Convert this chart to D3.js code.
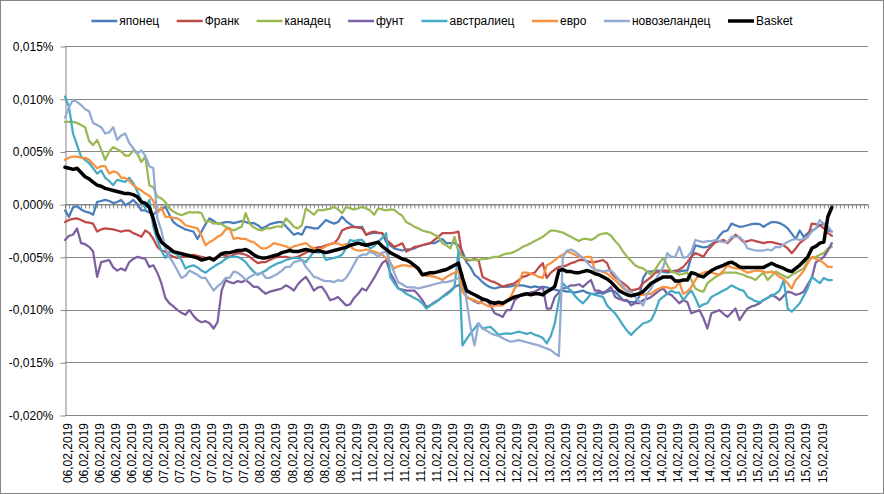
<!DOCTYPE html>
<html>
<head>
<meta charset="utf-8">
<script src="https://cdn.jsdelivr.net/npm/d3@7"></script>
<style>
  body { margin: 0; background: #fff; }
  svg { display: block; font-family: "Liberation Sans", Arial, sans-serif; }
</style>
</head>
<body>
<div id="chart"></div>
<script>
// Category axis: 24 hourly points per trading day, plus a few empty slots at the end
const days = ["06,02,2019", "07,02,2019", "08,02,2019", "11,02,2019", "12,02,2019", "13,02,2019", "14,02,2019", "15,02,2019"];
const pointsPerDay = 24;
const emptySlots = 9;
const labelEvery = 4;

// Y ticks, in thousandths of a percent (5 = 0,005%)
const yTicks = [15, 10, 5, 0, -5, -10, -15, -20];

const seriesNames = ["японец", "Франк", "канадец", "фунт", "австралиец", "евро", "новозеландец", "Basket"];
const seriesColors = ["#4A7EBB", "#BE4B48", "#98B954", "#7D60A0", "#46AAC5", "#F69240", "#93ABD3", "#000000"];

// Series values, thousandths of a percent (-5.2 = -0,0052%), one row per day
const japonec = [
  -0.6, -1.2, -0.3, -0.2, -0.5, -0.7, -0.8, -1.0, 0.2, 0.3, 0.4, 0.3, 0.1, 0.2, 0.4, -0.1, 0.1, 0.4, 0.0, -0.6, -0.6, -0.8, -1.0, -0.6,
  -0.5, -0.25, -1.0, -1.7, -2.0, -2.2, -2.4, -2.5, -2.6, -3.3, -2.6, -1.9, -1.35, -1.6, -1.85, -1.8, -1.7, -1.7, -1.8, -1.7, -1.6, -1.7, -1.8, -1.8,
  -2.0, -2.3, -2.15, -1.9, -1.8, -1.7, -1.7, -2.1, -2.5, -2.9, -2.75, -2.9, -2.15, -2.2, -2.3, -2.3, -1.9, -1.5, -1.7, -1.85, -1.7, -1.2, -1.6, -1.9,
  -2.15, -2.2, -2.15, -2.9, -2.8, -2.7, -2.75, -2.75, -3.6, -3.9, -4.2, -4.3, -4.4, -4.3, -4.3, -4.2, -4.0, -3.9, -3.8, -3.7, -3.7, -3.5, -3.3, -3.7,
  -3.7, -3.7, -3.9, -4.5, -5.5, -6.0, -6.7, -7.0, -7.4, -7.7, -7.9, -8.0, -7.9, -7.8, -7.85, -7.8, -7.7, -7.7, -7.7, -7.8, -7.9, -7.8, -7.9, -7.85,
  -7.9, -8.0, -8.1, -8.2, -8.2, -8.3, -8.3, -8.4, -8.3, -8.2, -8.4, -8.5, -8.5, -8.4, -8.5, -8.3, -8.2, -8.3, -8.7, -9.1, -9.2, -9.3, -9.3, -8.8,
  -7.0, -6.4, -6.4, -6.3, -6.3, -6.4, -6.5, -6.4, -6.3, -6.4, -6.3, -6.3, -5.0, -3.9, -4.0, -4.1, -4.05, -3.8, -3.6, -3.0, -2.6, -2.5, -1.85, -2.0,
  -2.15, -2.1, -2.0, -1.9, -1.85, -1.9, -2.15, -1.9, -1.7, -1.7, -1.8, -2.0, -2.3, -2.8, -3.3, -2.5, -3.1, -2.75, -2.5, -2.3, -2.0, -1.85, -2.5, -2.6
];
const frank = [
  -1.7, -1.5, -1.4, -1.35, -1.5, -1.7, -1.75, -1.85, -2.6, -2.4, -2.3, -2.35, -2.4, -2.5, -2.6, -2.5, -2.5, -2.75, -2.9, -3.1, -2.5, -2.75, -3.3, -4.05,
  -4.4, -4.5, -4.8, -5.0, -5.1, -5.0, -5.0, -4.9, -4.8, -4.9, -5.0, -5.1, -5.2, -5.3, -5.0, -4.8, -4.9, -5.0, -4.8, -4.65, -4.7, -4.8, -5.0, -5.3,
  -5.6, -5.5, -5.5, -5.3, -5.1, -5.0, -5.0, -5.0, -5.1, -5.1, -5.0, -4.8, -4.6, -4.4, -4.2, -4.1, -4.05, -3.9, -3.8, -3.7, -3.3, -2.5, -2.3, -2.2,
  -2.15, -2.2, -2.3, -2.9, -2.7, -2.6, -2.7, -2.75, -3.4, -3.7, -4.05, -3.9, -3.7, -4.5, -4.3, -4.05, -4.0, -3.9, -3.8, -3.7, -3.4, -3.1, -2.75, -2.75,
  -2.75, -2.7, -2.6, -5.0, -5.3, -5.3, -5.2, -5.3, -6.9, -7.1, -7.3, -7.4, -7.6, -7.85, -7.7, -7.6, -7.5, -7.2, -6.9, -6.8, -6.6, -6.5, -6.0, -5.6,
  -7.0, -6.5, -6.2, -5.95, -5.9, -5.8, -5.6, -5.5, -5.3, -5.3, -5.4, -5.5, -5.5, -5.4, -5.3, -5.6, -6.5, -6.9, -7.2, -7.5, -7.8, -8.2, -8.1, -8.0,
  -7.5, -7.2, -6.9, -6.5, -6.4, -6.3, -6.3, -6.4, -6.4, -6.2, -5.95, -5.5, -5.0, -4.65, -4.8, -5.0, -4.4, -4.0, -3.6, -3.5, -3.4, -3.7, -3.3, -2.9,
  -3.2, -3.6, -3.5, -3.4, -3.5, -3.6, -3.7, -3.6, -3.6, -3.7, -3.8, -3.9, -4.2, -4.65, -4.2, -3.7, -3.4, -3.1, -1.85, -1.9, -2.0, -2.3, -2.75, -3.0
];
const kanadec = [
  7.8, 7.8, 7.8, 7.7, 7.5, 7.3, 6.0, 5.6, 6.1, 5.2, 4.2, 5.0, 5.4, 5.2, 5.0, 4.6, 4.6, 5.1, 4.8, 4.0, 4.5, 1.8, 1.6, 0.7,
  0.55, 0.2, -0.4, -0.7, -0.9, -1.05, -0.9, -0.75, -0.8, -0.75, -0.85, -1.7, -1.6, -1.85, -1.8, -1.9, -2.15, -2.3, -2.5, -2.3, -2.15, -0.85, -1.85, -2.2,
  -2.4, -2.5, -2.3, -2.3, -2.2, -2.1, -2.15, -1.35, -1.7, -2.15, -2.3, -2.0, -0.4, -0.7, -1.0, -0.55, -0.6, -0.5, -0.45, -0.25, -0.5, -0.85, -0.25, -0.4,
  -0.5, -0.4, -0.25, -0.4, -0.6, -1.0, -0.4, -0.5, -0.6, -0.5, -0.55, -0.85, -1.1, -1.7, -1.9, -2.15, -2.3, -2.5, -2.6, -2.7, -2.9, -3.1, -3.7, -3.9,
  -4.2, -3.1, -4.5, -5.0, -5.2, -5.3, -5.3, -5.3, -5.2, -5.2, -5.1, -5.0, -5.0, -4.8, -4.7, -4.65, -4.5, -4.3, -4.05, -3.9, -3.7, -3.5, -3.3, -3.1,
  -2.8, -2.5, -2.5, -2.6, -2.7, -2.9, -3.1, -3.3, -3.5, -3.3, -3.3, -3.4, -3.2, -2.9, -2.8, -2.75, -3.0, -3.5, -3.9, -4.5, -5.0, -5.4, -5.8, -6.0,
  -6.1, -6.4, -6.7, -6.2, -5.6, -5.1, -5.8, -6.4, -6.5, -6.7, -6.6, -6.5, -7.2, -8.0, -8.2, -8.3, -7.5, -7.2, -6.9, -6.7, -6.5, -6.5, -6.5, -6.5,
  -6.6, -6.7, -6.9, -7.0, -7.2, -6.8, -6.5, -7.2, -6.8, -6.4, -6.6, -6.8, -7.0, -6.7, -6.5, -6.3, -6.1, -5.3, -5.1, -5.0, -4.8, -4.65, -4.2, -4.05
];
const funt = [
  -3.4, -3.0, -2.9, -2.3, -3.7, -3.8, -4.05, -4.5, -6.9, -5.5, -5.4, -5.3, -6.0, -6.3, -6.1, -6.3, -5.5, -5.2, -5.0, -5.1, -5.2, -5.95, -5.8, -6.5,
  -7.5, -8.9, -9.4, -9.7, -10.05, -10.3, -10.5, -10.05, -10.6, -11.0, -11.2, -11.1, -11.3, -11.8, -11.2, -8.2, -7.2, -7.4, -7.5, -7.3, -7.4, -7.2, -7.5, -7.85,
  -7.85, -8.2, -8.5, -8.3, -8.2, -8.1, -8.0, -7.7, -7.9, -8.2, -7.6, -7.2, -6.9, -7.5, -8.2, -7.9, -7.85, -8.4, -9.1, -9.0, -8.8, -9.2, -9.6, -9.5,
  -8.9, -8.5, -8.0, -8.2, -7.6, -7.0, -6.3, -5.6, -5.3, -6.5, -7.2, -8.0, -8.1, -8.2, -8.2, -8.2, -8.6, -9.1, -9.75, -9.6, -9.3, -9.1, -8.8, -8.5,
  -8.2, -7.85, -7.7, -7.5, -8.8, -9.0, -9.2, -9.4, -9.1, -9.1, -9.6, -10.35, -10.5, -10.7, -10.05, -10.05, -9.1, -8.8, -8.5, -8.5, -8.4, -8.3, -8.1, -7.85,
  -9.9, -9.9, -8.8, -8.4, -8.0, -7.9, -7.7, -7.7, -7.6, -7.85, -7.5, -7.2, -8.2, -8.2, -8.4, -8.2, -7.85, -8.8, -9.0, -9.1, -9.1, -9.6, -9.4, -9.4,
  -9.1, -9.0, -8.8, -8.5, -8.2, -8.0, -8.5, -8.6, -9.0, -9.4, -9.1, -9.3, -10.35, -10.2, -10.05, -10.8, -11.8, -10.35, -10.2, -10.05, -10.4, -10.7, -10.3, -9.9,
  -11.0, -10.4, -9.9, -9.7, -9.6, -9.4, -9.1, -8.9, -8.6, -8.8, -9.1, -8.7, -8.3, -8.4, -8.6, -8.5, -8.3, -7.6, -7.0, -5.5, -5.3, -5.0, -4.4, -3.7
];
const avstraliec = [
  10.2, 9.2, 6.7, 5.6, 4.5, 4.2, 3.9, 3.4, 2.9, 3.2, 2.5, 2.2, 1.8, 2.3, 2.2, 2.1, 2.5, 2.0, 1.2, 0.4, -0.4, 0.4, -2.15, -3.4,
  -4.4, -5.1, -4.5, -4.6, -4.8, -5.3, -6.1, -5.9, -5.8, -6.0, -6.3, -6.5, -6.2, -5.95, -5.7, -5.5, -5.2, -5.0, -5.0, -5.0, -5.2, -5.5, -6.0, -6.4,
  -6.7, -6.5, -6.3, -6.0, -5.8, -5.6, -5.5, -5.3, -5.2, -5.1, -5.1, -5.3, -5.5, -5.0, -4.5, -4.6, -4.5, -5.3, -5.2, -5.1, -5.0, -4.8, -4.2, -3.4,
  -3.5, -3.4, -3.4, -3.8, -4.2, -4.0, -3.6, -3.2, -2.75, -6.9, -7.5, -8.0, -8.2, -8.5, -8.7, -8.9, -9.1, -9.4, -9.9, -9.6, -9.4, -9.1, -8.8, -8.6,
  -8.3, -7.9, -4.4, -13.4, -12.8, -12.25, -11.8, -11.3, -11.8, -11.7, -11.65, -12.0, -12.4, -12.3, -12.25, -12.3, -12.2, -12.1, -12.2, -12.3, -12.2, -12.4, -12.5, -12.7,
  -13.2, -12.5, -11.3, -9.1, -7.5, -7.9, -8.2, -8.7, -9.1, -9.4, -9.0, -8.5, -8.6, -8.7, -8.8, -9.6, -10.0, -10.35, -10.9, -11.5, -12.0, -12.4, -12.0, -11.65,
  -11.3, -11.2, -11.0, -10.2, -9.1, -8.8, -8.5, -8.2, -8.4, -8.4, -9.1, -8.6, -8.2, -8.9, -9.75, -9.5, -9.4, -8.8, -8.6, -8.4, -8.2, -8.0, -7.7, -7.9,
  -8.1, -8.2, -8.8, -9.0, -9.2, -9.3, -9.1, -8.9, -8.7, -8.5, -8.2, -7.2, -9.9, -10.2, -9.8, -9.4, -8.7, -8.0, -6.9, -7.2, -7.5, -7.0, -7.2, -7.2
];
const evro = [
  4.2, 4.4, 4.5, 4.5, 4.4, 4.4, 4.2, 3.8, 3.4, 3.6, 3.6, 2.9, 3.1, 3.0, 2.5, 2.5, 2.2, 1.8, 1.5, 1.3, 1.0, 0.8, 0.3, -0.85,
  -0.3, -1.2, -1.2, -1.3, -1.35, -1.6, -2.0, -2.1, -2.2, -2.3, -3.0, -3.9, -3.6, -3.4, -3.1, -2.9, -2.4, -2.3, -3.3, -3.2, -3.3, -3.3, -3.5, -3.6,
  -3.9, -4.2, -4.2, -4.0, -3.7, -3.8, -3.9, -4.0, -4.2, -4.0, -3.9, -3.8, -3.7, -4.0, -4.2, -4.4, -4.2, -4.0, -3.8, -3.7, -3.75, -3.9, -3.8, -4.0,
  -4.3, -4.4, -4.4, -4.3, -4.4, -4.5, -4.65, -4.8, -5.1, -5.6, -6.1, -5.9, -5.8, -5.8, -5.9, -5.9, -6.3, -6.7, -6.8, -6.8, -6.9, -7.0, -7.2, -6.9,
  -6.7, -6.5, -6.3, -8.3, -8.8, -9.0, -9.1, -9.3, -9.4, -9.6, -9.75, -9.6, -9.6, -9.6, -9.2, -8.8, -8.0, -7.5, -6.5, -6.5, -6.6, -6.7, -6.9, -7.0,
  -5.8, -5.6, -5.3, -5.0, -4.8, -4.5, -4.6, -4.8, -5.0, -5.1, -5.0, -5.0, -6.3, -6.3, -6.4, -6.6, -6.9, -7.2, -7.6, -8.0, -8.2, -8.4, -8.6, -8.6,
  -8.6, -8.5, -8.5, -8.2, -8.0, -7.85, -7.9, -8.0, -7.9, -7.4, -8.5, -8.3, -7.85, -7.2, -6.7, -6.5, -6.4, -6.5, -6.6, -6.7, -6.3, -5.8, -6.0, -6.1,
  -6.1, -6.3, -6.5, -6.4, -6.3, -6.3, -6.4, -6.5, -6.4, -6.6, -6.9, -7.1, -7.5, -8.0, -7.2, -6.8, -6.3, -5.6, -5.0, -5.2, -5.3, -5.6, -5.95, -5.95
];
const novozelandec = [
  8.2, 9.2, 9.9, 9.7, 9.4, 9.0, 8.8, 7.7, 7.5, 7.3, 6.7, 6.8, 7.3, 6.1, 6.5, 6.7, 5.8, 5.3, 4.8, 5.1, 4.6, 3.6, 3.4, -1.35,
  -2.5, -4.2, -5.0, -5.6, -6.3, -7.0, -6.8, -6.3, -6.5, -6.7, -7.0, -7.0, -7.6, -8.2, -7.8, -7.5, -7.0, -7.0, -6.4, -6.5, -6.8, -7.2, -6.9, -6.7,
  -6.6, -6.5, -7.0, -7.0, -6.8, -6.6, -6.3, -5.95, -5.95, -5.5, -5.4, -5.3, -5.95, -6.4, -6.9, -7.0, -7.2, -7.3, -7.3, -7.4, -7.2, -7.3, -7.0, -6.4,
  -5.7, -5.0, -4.8, -4.8, -4.5, -4.7, -5.0, -4.6, -4.5, -5.5, -6.5, -7.4, -7.6, -7.85, -7.9, -7.9, -8.0, -7.9, -7.8, -7.7, -7.6, -7.5, -7.4, -7.4,
  -7.3, -7.2, -7.0, -6.7, -9.1, -11.65, -13.4, -11.3, -11.8, -12.0, -12.25, -12.4, -12.5, -12.7, -12.9, -13.05, -13.0, -12.9, -13.0, -13.1, -13.2, -13.3, -13.4, -13.55,
  -13.7, -13.85, -14.15, -14.4, -5.0, -4.4, -4.3, -4.5, -4.8, -5.1, -5.5, -5.95, -6.2, -6.3, -6.4, -6.3, -6.3, -6.7, -7.2, -7.8, -8.3, -8.3, -8.8, -9.2,
  -9.6, -8.5, -8.0, -7.2, -6.6, -5.95, -4.65, -5.0, -5.0, -4.05, -5.1, -5.0, -4.5, -3.4, -3.5, -3.6, -3.5, -3.5, -3.4, -3.5, -3.6, -3.6, -3.1, -3.1,
  -3.1, -3.5, -4.2, -4.3, -4.4, -4.4, -4.4, -4.3, -4.4, -4.05, -4.1, -3.8, -3.6, -3.4, -3.3, -3.4, -3.3, -3.1, -2.6, -2.3, -1.5, -1.9, -2.15, -2.6
];
const basket = [
  3.5, 3.4, 3.3, 3.4, 3.0, 2.6, 2.4, 2.1, 1.8, 1.7, 1.5, 1.4, 1.3, 1.2, 1.1, 1.0, 1.0, 0.9, 0.7, 0.2, 0.1, -0.3, -1.4, -2.8,
  -3.6, -3.9, -4.2, -4.5, -4.6, -4.7, -4.8, -4.9, -5.0, -5.1, -5.3, -5.2, -5.1, -5.3, -5.0, -4.7, -4.6, -4.6, -4.5, -4.4, -4.4, -4.3, -4.5, -4.8,
  -5.0, -5.1, -5.1, -5.0, -4.9, -4.8, -4.6, -4.5, -4.4, -4.5, -4.5, -4.4, -4.3, -4.4, -4.5, -4.4, -4.5, -4.6, -4.5, -4.4, -4.3, -4.2, -4.1, -3.9,
  -3.8, -3.7, -3.8, -3.9, -3.8, -3.7, -3.6, -4.0, -4.3, -4.6, -4.8, -5.0, -5.2, -5.3, -5.5, -5.8, -6.1, -6.7, -6.6, -6.5, -6.5, -6.4, -6.3, -6.2,
  -6.0, -5.8, -5.6, -7.0, -8.2, -8.4, -8.6, -8.8, -9.0, -9.1, -9.3, -9.4, -9.3, -9.4, -9.2, -9.0, -8.8, -8.7, -8.6, -8.5, -8.6, -8.5, -8.5, -8.6,
  -8.3, -8.1, -7.8, -6.3, -6.2, -6.4, -6.4, -6.5, -6.5, -6.4, -6.3, -6.4, -6.6, -6.7, -6.9, -7.1, -7.4, -7.8, -8.2, -8.4, -8.6, -8.7, -8.6, -8.5,
  -8.3, -7.9, -7.5, -7.3, -7.1, -6.9, -6.9, -6.9, -7.3, -7.3, -7.2, -7.2, -6.5, -6.6, -6.8, -6.9, -6.6, -6.3, -6.1, -5.95, -5.8, -5.6, -5.5, -5.7,
  -5.95, -6.0, -6.0, -6.0, -6.0, -6.0, -6.0, -5.8, -5.6, -5.8, -5.95, -6.1, -6.3, -6.4, -6.1, -5.8, -5.4, -5.0, -4.2, -4.0, -3.7, -3.6, -1.2, -0.3
];

const seriesValues = [japonec, frank, kanadec, funt, avstraliec, evro, novozelandec, basket];

// Size and plot box
const width = 884;
const height = 494;
const plot = { left: 65, right: 868, top: 46, bottom: 415 };
const gridColor = "#868686";

// Category labels: each day repeated for its hourly points, blanks at the end
const categoryLabels = [];
days.forEach((d) => {
  for (let h = 0; h < pointsPerDay; h++) categoryLabels.push(d);
});
const dataLength = categoryLabels.length;
for (let k = 0; k < emptySlots; k++) categoryLabels.push("");
const categoryIndex = d3.range(categoryLabels.length);

const svg = d3
  .select("#chart")
  .append("svg")
  .attr("width", width)
  .attr("height", height);

// Outer frame
svg
  .append("rect")
  .attr("x", 0.5)
  .attr("y", 0.5)
  .attr("width", width - 1)
  .attr("height", height - 1)
  .attr("fill", "#fff")
  .attr("stroke", gridColor);

// Scales
const x = d3.scalePoint().domain(categoryIndex).range([plot.left, plot.right]);
const y = d3.scaleLinear().domain([-20, 15]).range([plot.bottom, plot.top]);

const fmt = (d) => (d / 1000).toFixed(3).replace(".", ",") + "%";

// Gridlines
svg
  .append("g")
  .selectAll("line")
  .data(yTicks)
  .enter()
  .append("line")
  .attr("x1", plot.left)
  .attr("x2", plot.right)
  .attr("y1", (d) => Math.round(y(d)) + 0.5)
  .attr("y2", (d) => Math.round(y(d)) + 0.5)
  .attr("stroke", gridColor)
  .attr("stroke-width", 1);

// Y axis
const yAxis = svg
  .append("g")
  .attr("transform", `translate(${plot.left + 0.5},0.5)`)
  .call(
    d3.axisLeft(y).tickValues(yTicks).tickSize(5).tickSizeOuter(0).tickPadding(7).tickFormat(fmt)
  );
yAxis.select(".domain").attr("stroke", gridColor);
yAxis.selectAll(".tick line").attr("stroke", gridColor);
yAxis
  .selectAll("text")
  .attr("font-family", "Liberation Sans, Arial, sans-serif")
  .attr("font-size", 12)
  .attr("fill", "#000");

// Category axis across the zero line, a tick for every slot
const zeroAxis = svg
  .append("g")
  .attr("transform", `translate(0,${Math.round(y(0)) + 0.5})`)
  .call(
    d3.axisBottom(x).tickValues(categoryIndex).tickSize(4).tickSizeOuter(0).tickFormat("")
  );
zeroAxis.select(".domain").attr("stroke", gridColor);
zeroAxis.selectAll(".tick line").attr("stroke", gridColor);

// Category labels along the bottom, every 4th slot
const labelAxis = svg
  .append("g")
  .attr("transform", `translate(0,${plot.bottom})`)
  .call(
    d3
      .axisBottom(x)
      .tickValues(categoryIndex.filter((i) => i % labelEvery === 0 && i < dataLength))
      .tickSize(0)
      .tickFormat((i) => categoryLabels[i])
  );
labelAxis.select(".domain").remove();
labelAxis
  .selectAll("text")
  .attr("transform", "rotate(-90)")
  .attr("text-anchor", "end")
  .attr("x", -8)
  .attr("y", 2)
  .attr("dy", "0.35em")
  .attr("font-family", "Liberation Sans, Arial, sans-serif")
  .attr("font-size", 12)
  .attr("fill", "#000");

// Series lines
const line = d3
  .line()
  .x((d, i) => x(i))
  .y((d) => y(d));

svg
  .append("g")
  .selectAll("path")
  .data(seriesValues)
  .enter()
  .append("path")
  .attr("d", line)
  .attr("fill", "none")
  .attr("stroke", (d, i) => seriesColors[i])
  .attr("stroke-width", (d, i) => (i === seriesValues.length - 1 ? 3.5 : 2.25))
  .attr("stroke-linejoin", "round")
  .attr("stroke-linecap", "round");

// Legend, centred across the top
const legend = svg.append("g").attr("transform", "translate(0,21)");
const items = legend
  .selectAll("g")
  .data(seriesNames)
  .enter()
  .append("g");

items
  .append("text")
  .attr("x", 28)
  .attr("dy", "0.35em")
  .attr("font-family", "Liberation Sans, Arial, sans-serif")
  .attr("font-size", 12)
  .attr("fill", "#000")
  .text((d) => d);

items
  .append("line")
  .attr("x1", 0)
  .attr("x2", 26)
  .attr("stroke", (d, i) => seriesColors[i])
  .attr("stroke-width", (d, i) => (i === seriesNames.length - 1 ? 3.5 : 2.5));

const gap = 17.5;
const widths = items.nodes().map((n) => 28 + n.querySelector("text").getComputedTextLength());
const total = d3.sum(widths) + gap * (widths.length - 1);
let cursor = (width - total) / 2;
items.attr("transform", (d, i) => {
  const pos = cursor;
  cursor += widths[i] + gap;
  return `translate(${pos},0)`;
});
</script>
</body>
</html>
